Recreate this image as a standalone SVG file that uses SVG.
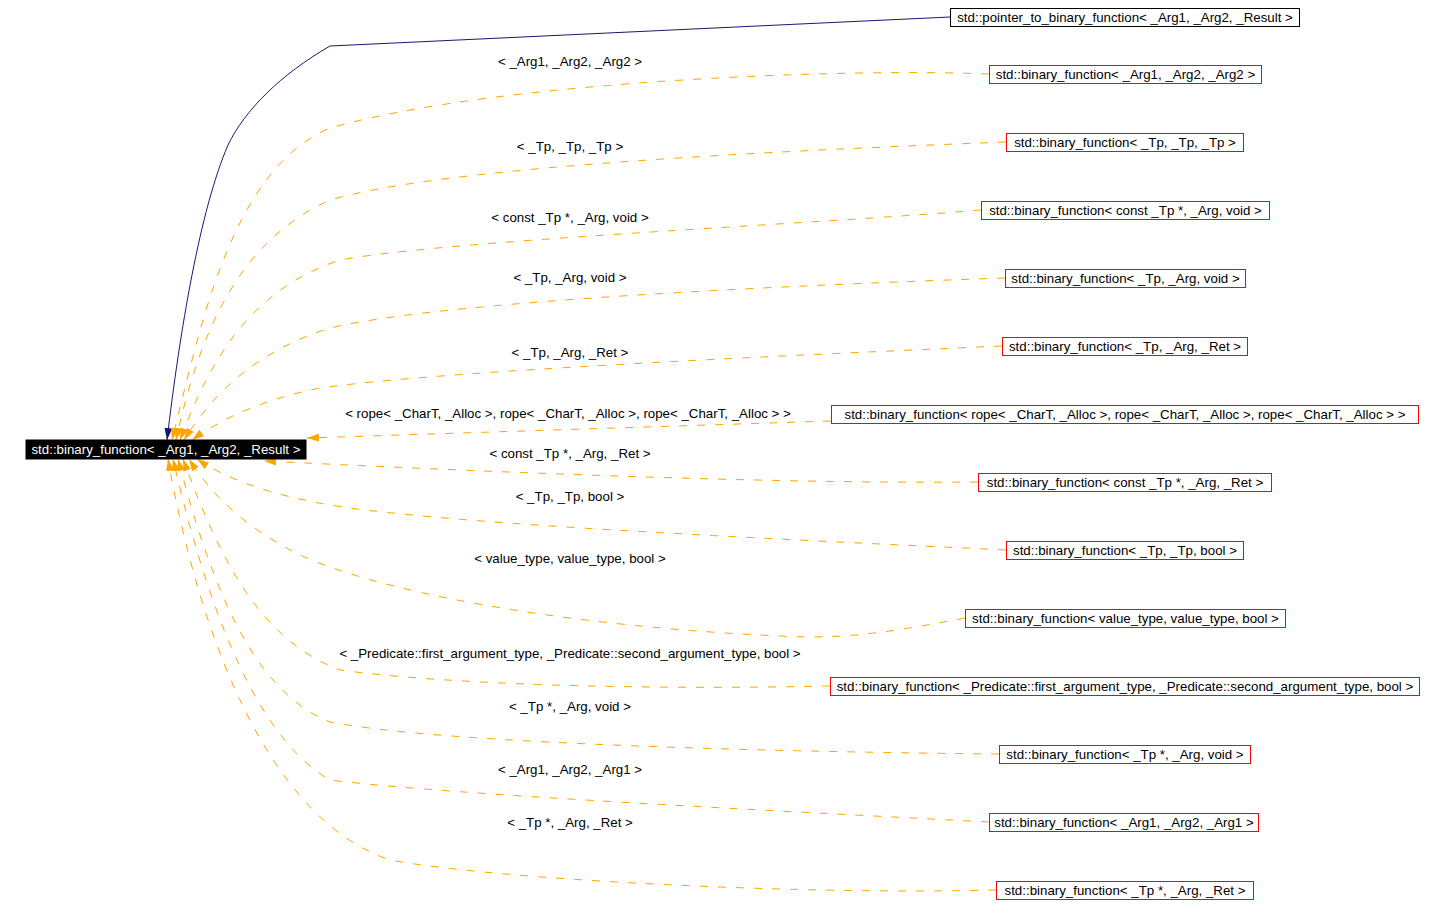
<svg xmlns="http://www.w3.org/2000/svg" width="1444" height="917" viewBox="0 0 1444 917">
<style>
text{font-family:"Liberation Sans",Arial,sans-serif;font-size:13.3px;fill:#000}
.n rect{fill:#fff;stroke:#ff0000;stroke-width:1}
.n text{text-anchor:middle}
.blk rect{stroke:#000}
.main rect{fill:#000;stroke:#000}
.main text{fill:#fff}
.e{fill:none;stroke:#ffa500;stroke-width:1;stroke-dasharray:8,10}
.s{fill:none;stroke:#191970;stroke-width:1}
.lbl{text-anchor:middle}
</style>
<defs>
<marker id="ao" viewBox="0 0 12 8" refX="12" refY="4" markerWidth="12" markerHeight="8" markerUnits="userSpaceOnUse" orient="auto"><path d="M0,0 L12,4 L0,8 z" fill="#ffa500"/></marker>
<marker id="an" viewBox="0 0 12 8" refX="12" refY="4" markerWidth="12" markerHeight="8" markerUnits="userSpaceOnUse" orient="auto"><path d="M0,0 L12,4 L0,8 z" fill="#191970"/></marker>
</defs>
<rect width="1444" height="917" fill="#fff"/>
<g id="edges">
<path class="s" marker-end="url(#an)" d="M950,17 L330,46 C280,75 245,110 228,145 C200,210 180,330 167,440"/>
<path class="e" marker-end="url(#ao)" d="M989,74 C850,68 500,80 330,128 C230,170 200,330 172,440"/>
<path class="e" marker-end="url(#ao)" d="M1006,142 C800,150 450,165 330,200 C240,240 200,330 176,440"/>
<path class="e" marker-end="url(#ao)" d="M981,210 C800,225 450,240 340,260 C250,290 210,360 180,440"/>
<path class="e" marker-end="url(#ao)" d="M1005,278 C800,285 450,300 330,328 C260,350 215,390 184,440"/>
<path class="e" marker-end="url(#ao)" d="M1002,346 C800,355 450,370 320,388 C260,400 220,420 192,440"/>
<path class="e" marker-end="url(#ao)" d="M831,421 L307,438"/>
<path class="e" marker-end="url(#ao)" d="M978,482 C750,484 450,470 264,461"/>
<path class="e" marker-end="url(#ao)" d="M1006,550 C800,540 450,525 330,505 C270,495 225,478 197,459"/>
<path class="e" marker-end="url(#ao)" d="M965,618 C900,630 850,640 780,636 C600,628 400,600 300,555 C250,530 215,500 189,459"/>
<path class="e" marker-end="url(#ao)" d="M830,686 C650,690 450,685 340,670 C260,640 220,560 183,459"/>
<path class="e" marker-end="url(#ao)" d="M999,754 C800,752 450,745 330,722 C250,690 210,580 178,459"/>
<path class="e" marker-end="url(#ao)" d="M989,822 C800,812 450,795 330,780 C260,740 210,620 173,459"/>
<path class="e" marker-end="url(#ao)" d="M996,890 C800,895 500,880 390,860 C270,820 200,640 168,459"/>
<text class="lbl" x="570" y="66">&lt; _Arg1, _Arg2, _Arg2 &gt;</text>
<text class="lbl" x="570" y="151">&lt; _Tp, _Tp, _Tp &gt;</text>
<text class="lbl" x="570" y="222">&lt; const _Tp *, _Arg, void &gt;</text>
<text class="lbl" x="570" y="282">&lt; _Tp, _Arg, void &gt;</text>
<text class="lbl" x="570" y="357">&lt; _Tp, _Arg, _Ret &gt;</text>
<text class="lbl" x="568" y="418">&lt; rope&lt; _CharT, _Alloc &gt;, rope&lt; _CharT, _Alloc &gt;, rope&lt; _CharT, _Alloc &gt; &gt;</text>
<text class="lbl" x="570" y="458">&lt; const _Tp *, _Arg, _Ret &gt;</text>
<text class="lbl" x="570" y="501">&lt; _Tp, _Tp, bool &gt;</text>
<text class="lbl" x="570" y="563">&lt; value_type, value_type, bool &gt;</text>
<text class="lbl" x="570" y="658">&lt; _Predicate::first_argument_type, _Predicate::second_argument_type, bool &gt;</text>
<text class="lbl" x="570" y="711">&lt; _Tp *, _Arg, void &gt;</text>
<text class="lbl" x="570" y="774">&lt; _Arg1, _Arg2, _Arg1 &gt;</text>
<text class="lbl" x="570" y="827">&lt; _Tp *, _Arg, _Ret &gt;</text>
</g>
<g id="main" class="n main"><rect x="26" y="440" width="280" height="19"/><text x="166" y="454">std::binary_function&lt; _Arg1, _Arg2, _Result &gt;</text></g>
<g id="n_ptr" class="n blk"><rect x="950.5" y="8.5" width="349" height="18"/><text x="1125" y="22">std::pointer_to_binary_function&lt; _Arg1, _Arg2, _Result &gt;</text></g>
<g id="n_a1a2a2" class="n"><rect x="989.5" y="65.5" width="272" height="18"/><text x="1125.5" y="79">std::binary_function&lt; _Arg1, _Arg2, _Arg2 &gt;</text></g>
<g id="n_tptptp" class="n"><rect x="1006.5" y="133.5" width="237" height="18"/><text x="1125" y="147">std::binary_function&lt; _Tp, _Tp, _Tp &gt;</text></g>
<g id="n_ctpargvoid" class="n"><rect x="981.5" y="201.5" width="288" height="18"/><text x="1125.5" y="215">std::binary_function&lt; const _Tp *, _Arg, void &gt;</text></g>
<g id="n_tpargvoid" class="n"><rect x="1005.5" y="269.5" width="240" height="18"/><text x="1125.5" y="283">std::binary_function&lt; _Tp, _Arg, void &gt;</text></g>
<g id="n_tpargret" class="n"><rect x="1002.5" y="337.5" width="245" height="18"/><text x="1125" y="351">std::binary_function&lt; _Tp, _Arg, _Ret &gt;</text></g>
<g id="n_rope" class="n"><rect x="831.5" y="405.5" width="587" height="18"/><text x="1125" y="419">std::binary_function&lt; rope&lt; _CharT, _Alloc &gt;, rope&lt; _CharT, _Alloc &gt;, rope&lt; _CharT, _Alloc &gt; &gt;</text></g>
<g id="n_ctpargret" class="n"><rect x="978.5" y="473.5" width="293" height="18"/><text x="1125" y="487">std::binary_function&lt; const _Tp *, _Arg, _Ret &gt;</text></g>
<g id="n_tptpbool" class="n"><rect x="1006.5" y="541.5" width="237" height="18"/><text x="1125" y="555">std::binary_function&lt; _Tp, _Tp, bool &gt;</text></g>
<g id="n_vtvtbool" class="n"><rect x="965.5" y="609.5" width="320" height="18"/><text x="1125.5" y="623">std::binary_function&lt; value_type, value_type, bool &gt;</text></g>
<g id="n_pred" class="n"><rect x="830.5" y="677.5" width="589" height="18"/><text x="1125" y="691">std::binary_function&lt; _Predicate::first_argument_type, _Predicate::second_argument_type, bool &gt;</text></g>
<g id="n_tpsargvoid" class="n"><rect x="999.5" y="745.5" width="251" height="18"/><text x="1125" y="759">std::binary_function&lt; _Tp *, _Arg, void &gt;</text></g>
<g id="n_a1a2a1" class="n"><rect x="989.5" y="813.5" width="269" height="18"/><text x="1124" y="827">std::binary_function&lt; _Arg1, _Arg2, _Arg1 &gt;</text></g>
<g id="n_tpsargret" class="n"><rect x="996.5" y="881.5" width="257" height="18"/><text x="1125" y="895">std::binary_function&lt; _Tp *, _Arg, _Ret &gt;</text></g>
</svg>
